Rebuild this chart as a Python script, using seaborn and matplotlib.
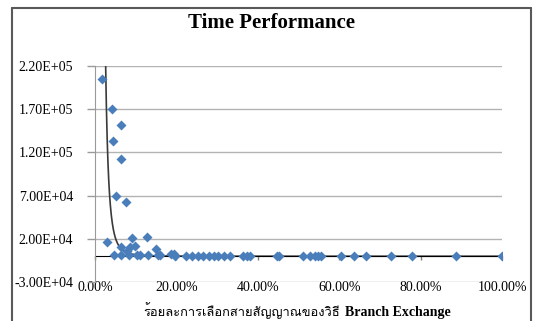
import numpy as np
import pandas as pd
import matplotlib
matplotlib.use('Agg')
import matplotlib.pyplot as plt
from matplotlib import font_manager
from matplotlib.ft2font import FT2Font
from matplotlib.lines import Line2D
from matplotlib.ticker import FuncFormatter, FixedLocator
import seaborn as sns

# percentage of signal selection (x) and time (y)
pct_selected = [1.6, 3.0, 4.1, 4.5, 4.7, 5.1, 6.3, 6.3, 6.4, 6.5,
                7.6, 7.8, 8.4, 8.7, 9.2, 9.8, 10.2, 11.0, 12.7, 13.1,
                15.0, 15.5, 16.0, 18.6, 19.3, 19.6, 22.4, 23.8, 25.4, 26.6,
                28.1, 29.2, 30.2, 31.7, 33.2, 36.3, 37.4, 38.2, 44.6, 45.2,
                51.1, 52.8, 54.0, 54.7, 55.5, 60.4, 63.6, 66.6, 72.7, 77.8,
                88.6, 100.0]
time_taken = [205000, 16000, 170000, 133000, 1000, 70000, 151000, 112000, 11000, 1000,
              63000, 5500, 1000, 11000, 21000, 12000, 1000, 1000, 22000, 1000,
              8500, 1000, 1000, 2000, 3000, 500, 800, 800, 800, 800,
              800, 800, 800, 800, 800, 600, 600, 600, 500, 500,
              400, 400, 400, 400, 400, 300, 300, 300, 300, 300,
              200, 200]

y_ticks = [-30000, 20000, 70000, 120000, 170000, 220000]
x_ticks = [0, 20, 40, 60, 80, 100]

# power trendline y = a * x^b (x in percent)
trend_a = 7.0e6
trend_b = -3.6

title = 'Time Performance'
xlabel_thai = 'ร้อยละการเลือกสายสัญญาณของวิธี'
xlabel_eng = 'Branch Exchange'


def find_thai_family():
    for f in font_manager.fontManager.ttflist:
        try:
            if 0x0E23 in FT2Font(f.fname).get_charmap():
                return f.name
        except Exception:
            continue
    return 'DejaVu Sans'


def main():
    sns.set_style('white')
    plt.rcParams['font.family'] = ['Liberation Serif', 'DejaVu Serif']
    plt.rcParams['text.color'] = 'black'
    plt.rcParams['xtick.labelcolor'] = 'black'
    plt.rcParams['ytick.labelcolor'] = 'black'
    thai_family = find_thai_family()

    df = pd.DataFrame({'pct': pct_selected, 'time': time_taken})
    xs = np.linspace(min(pct_selected), max(pct_selected), 2000)
    trend = pd.DataFrame({'pct': xs, 'time': trend_a * xs ** trend_b})

    fig = plt.figure(figsize=(5.4, 3.21), dpi=100)
    ax = fig.add_axes([95 / 540, 1 - 282.2 / 321, 407 / 540, (282.2 - 65.7) / 321])

    sns.lineplot(x='pct', y='time', data=trend, color='#3a3a3a', linewidth=1.2, ax=ax)
    sns.scatterplot(x='pct', y='time', data=df, marker='D', s=26, color='#4a7ebb',
                    edgecolor='#4a7ebb', linewidth=0, zorder=3, ax=ax)

    ax.set_xlim(0, 100)
    ax.set_ylim(-30000, 220000)
    ax.yaxis.set_major_locator(FixedLocator(y_ticks))
    ax.xaxis.set_major_locator(FixedLocator(x_ticks))
    ax.yaxis.set_major_formatter(FuncFormatter(lambda v, p: f'{v:.2E}'))
    ax.xaxis.set_major_formatter(FuncFormatter(lambda v, p: f'{v:.2f}%'))

    ax.grid(axis='y', color='#b3b3b3', linewidth=1)
    ax.set_axisbelow(True)
    for s in ['top', 'right']:
        ax.spines[s].set_visible(False)
    ax.spines['left'].set_color('#9a9a9a')
    ax.spines['bottom'].set_position(('data', 0))
    ax.spines['bottom'].set_color('black')
    ax.spines['bottom'].set_zorder(2)
    ax.tick_params(axis='y', direction='out', length=5.8, width=1, color='#9a9a9a',
                   pad=10, labelsize=10, left=True)
    ax.tick_params(axis='x', direction='out', length=3, width=1, color='#808080',
                   pad=15, labelsize=10, bottom=True)
    ax.set_xlabel('')
    ax.set_ylabel('')

    fig.text(272 / 540, 1 - 23 / 321, title, ha='center', va='center',
             fontsize=15, fontweight='bold')

    # x label: Thai part regular, English part bold, on one baseline
    base_y = 1 - 316 / 321
    t1 = fig.text(143 / 540, base_y, xlabel_thai, ha='left', va='baseline',
                  fontsize=9.3, family=[thai_family, 'DejaVu Sans'])
    fig.canvas.draw()
    x_end = t1.get_window_extent(fig.canvas.get_renderer()).x1
    fig.text(x_end / fig.bbox.width + 5 / 540, base_y, xlabel_eng, ha='left',
             va='baseline', fontsize=10, fontweight='bold')

    # chart border (top, left, right)
    for xy in [([12, 531], [8, 8]), ([12, 12], [8, 330]), ([531, 531], [8, 330])]:
        fig.add_artist(Line2D([v / 540 for v in xy[0]], [1 - v / 321 for v in xy[1]],
                              color='#595959', linewidth=1.5))

    fig.savefig('out.png', dpi=100)
    plt.close()


if __name__ == "__main__":
    main()
